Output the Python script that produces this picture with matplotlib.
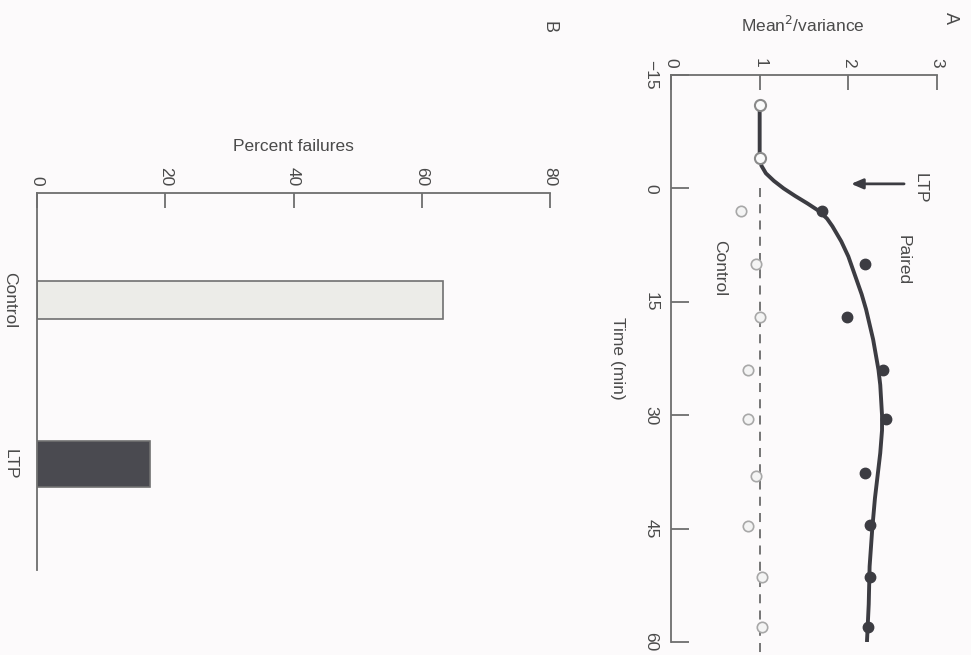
import matplotlib
matplotlib.use("Agg")
import matplotlib.pyplot as plt

plt.rcParams['font.family'] = ['Liberation Sans', 'DejaVu Sans']

# panel A data (time in min, mean^2/variance)
base_time = [-11, -4]
base_val = [1.0, 1.0]

control_time = [3, 10, 17, 24, 30.5, 38, 44.7, 51.4, 58]
control_val = [0.79, 0.96, 1.0, 0.87, 0.87, 0.96, 0.87, 1.03, 1.03]

paired_time = [3, 10, 17, 24, 30.5, 37.6, 44.5, 51.4, 58]
paired_val = [1.70, 2.19, 1.98, 2.39, 2.43, 2.19, 2.24, 2.24, 2.22]

fit_time = [-11, -6, -5, -4, -3, -2, -1, 0, 1, 2, 3, 4, 5, 6, 7, 8, 9, 10, 12, 14, 16,
            18, 20, 22, 24, 26, 28, 30, 32, 35, 38, 41, 45, 50, 55, 60]
fit_val = [1.0, 1.0, 1.0, 1.0, 1.02, 1.07, 1.16, 1.27, 1.40, 1.54, 1.67, 1.76, 1.82,
           1.87, 1.92, 1.96, 2.00, 2.03, 2.09, 2.15, 2.20, 2.24, 2.28, 2.31, 2.34, 2.36,
           2.37, 2.38, 2.38, 2.36, 2.33, 2.30, 2.27, 2.24, 2.23, 2.21]

time_ticks = [-15, 0, 15, 30, 45, 60]
val_ticks = [0, 1, 2, 3]

# panel B data
groups = ['Control', 'LTP']
failures = [63.3, 17.6]
bar_colors = ['#ecece8', '#4a4a50']
pct_ticks = [0, 20, 40, 60, 80]

txt = '#4a4a4a'
ax_col = '#6e6e6e'
bg = '#fcfafb'

fig = plt.figure(figsize=(9.71, 6.55), dpi=100, facecolor=bg)

# ---- panel A (drawn rotated: time runs down, value runs right)
axA = fig.add_axes([671/971, 1-642/655, (937-671)/971, (642-75)/655])
axA.set_facecolor(bg)
axA.plot([1, 1], [0, 62], ls=(0, (5, 4)), color='#6a6a6a', lw=1.3, zorder=1, clip_on=False)
axA.plot(fit_val, fit_time, color='#3c3c42', lw=2.8, zorder=2, solid_capstyle='butt',
         solid_joinstyle='round')
axA.plot(control_val, control_time, 'o', ms=7.5, mfc='#f4f4f4', mec='#a8a8a8', mew=1.2, zorder=3)
axA.plot(paired_val, paired_time, 'o', ms=7.5, color='#3c3c42', zorder=3)
axA.plot(base_val, base_time, 'o', ms=8, mfc='#fafafa', mec='#8a8a8a', mew=1.5, zorder=4)
axA.annotate('', xy=(2.0, -0.6), xytext=(2.66, -0.6),
             arrowprops=dict(arrowstyle='-|>,head_length=0.7,head_width=0.3', color='#3c3c42', lw=2))
axA.text(2.81, 0, 'LTP', rotation=-90, ha='center', va='center', fontsize=12.5, color=txt)
axA.text(2.62, 9.5, 'Paired', rotation=-90, ha='center', va='center', fontsize=12.5, color=txt)
axA.text(0.55, 10.5, 'Control', rotation=-90, ha='center', va='center', fontsize=12.5, color=txt)

axA.set_xlim(0, 3)
axA.set_ylim(60, -15)
axA.set_xticks(val_ticks)
axA.set_yticks(time_ticks)
axA.set_yticklabels([str(t).replace('-', '\u2212') for t in time_ticks])
axA.xaxis.tick_top()
for s in ['right', 'bottom']:
    axA.spines[s].set_visible(False)
for s in ['left', 'top']:
    axA.spines[s].set_color(ax_col)
    axA.spines[s].set_linewidth(1.3)
axA.tick_params(axis='x', direction='in', length=11, width=1.3, color=ax_col,
                labelsize=12.5, labelcolor=txt, pad=5, labelrotation=-90)
axA.tick_params(axis='y', direction='in', length=13, width=1.3, color=ax_col,
                labelsize=12.5, labelcolor=txt, pad=9, labelrotation=-90)
for lab in axA.get_yticklabels():
    lab.set_va('center')

fig.text(803/971, 1-25/655, 'Mean$^2$/variance', ha='center', va='center', fontsize=12.5, color=txt)
fig.text(617/971, 1-358/655, 'Time (min)', rotation=-90, ha='center', va='center', fontsize=12.5, color=txt)
fig.text(950/971, 1-18/655, 'A', rotation=-90, ha='center', va='center', fontsize=13, color=txt)

# ---- panel B (horizontal bars)
axB = fig.add_axes([37/971, 1-570/655, 513/971, 377/655])
axB.set_facecolor(bg)
axB.barh([0, 1], failures, height=[0.23, 0.28], color=bar_colors, edgecolor='#707070', lw=1.2)
axB.set_xlim(0, 80)
axB.set_ylim(1.646, -0.652)
axB.set_xticks(pct_ticks)
axB.set_yticks([0, 1])
axB.set_yticklabels(groups)
axB.xaxis.tick_top()
for s in ['right', 'bottom']:
    axB.spines[s].set_visible(False)
for s in ['left', 'top']:
    axB.spines[s].set_color(ax_col)
    axB.spines[s].set_linewidth(1.3)
axB.tick_params(axis='x', direction='in', length=11, width=1.3, color=ax_col,
                labelsize=12.5, labelcolor=txt, pad=5, labelrotation=-90)
axB.tick_params(axis='y', length=0, labelsize=12.5, labelcolor=txt, pad=14, labelrotation=-90)
for lab in axB.get_yticklabels():
    lab.set_va('center')

fig.text(293/971, 1-147/655, 'Percent failures', ha='center', va='center', fontsize=12.5, color=txt)
fig.text(549/971, 1-27/655, 'B', rotation=-90, ha='center', va='center', fontsize=13, color=txt)

fig.savefig('out.png', dpi=100, facecolor=bg)
